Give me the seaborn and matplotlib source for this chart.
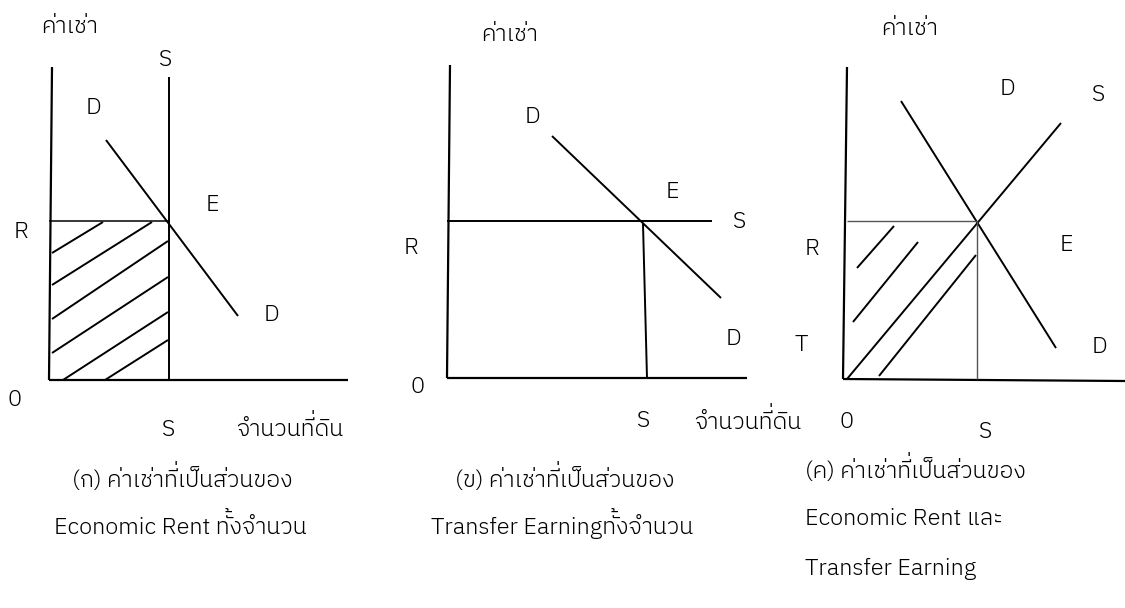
import matplotlib
matplotlib.use("Agg")
import matplotlib.pyplot as plt
from matplotlib import font_manager
from matplotlib.font_manager import FontProperties, findfont
from matplotlib.ft2font import FT2Font
from matplotlib.transforms import Bbox
import seaborn as sns
import pandas as pd

sns.set_theme(style="white")
names = {f.name for f in font_manager.fontManager.ttflist}
THAI = "IBM Plex Sans Thai" if "IBM Plex Sans Thai" in names else "Noto Sans Thai"
FAMILY = [THAI, "Noto Sans Thai", "DejaVu Sans"]
plt.rcParams["font.family"] = FAMILY
WEIGHT = 300

# ---- line segments (x0, y0, x1, y1) on the drawing canvas ----
# panel (ก)
p1_axes = [(52, 67, 49, 380), (49, 380, 348, 380)]
p1_supply = [(169, 77, 169, 380)]
p1_demand = [(106, 140, 238, 316)]
p1_rent = [(49, 221, 169, 221)]
p1_hatch = [(52, 253, 103, 222), (52, 285, 152, 222), (52, 319, 168, 241),
            (52, 353, 168, 277), (63, 380, 168, 312), (105, 380, 168, 340)]
# panel (ข)
p2_axes = [(450, 65, 447, 378), (447, 378, 747, 378)]
p2_supply = [(447, 221, 712, 221)]
p2_demand = [(552, 136, 721, 298)]
p2_drop = [(643, 224, 647, 378)]
# panel (ค)
p3_axes = [(847, 67, 843, 379), (843, 379, 1125, 381)]
p3_supply = [(847, 379, 1061, 123)]
p3_demand = [(901, 101, 1056, 348)]
p3_rect = [(847, 221, 977, 221), (977, 221, 977, 379)]
p3_hatch = [(857, 268, 894, 226), (853, 322, 918, 242), (879, 376, 976, 255)]

# ---- labels (text, x, y-centre) ----
labels = [
    ("ค่าเช่า", 70, 25), ("S", 165, 58), ("D", 93, 106), ("E", 212, 203),
    ("R", 21, 230), ("D", 271, 313), ("0", 15, 398), ("S", 168, 428),
    ("จำนวนที่ดิน", 290, 428),
    ("ค่าเช่า", 510, 33), ("D", 532, 115), ("E", 672, 190), ("S", 739, 220),
    ("R", 411, 246), ("D", 733, 337), ("0", 418, 385), ("S", 643, 419),
    ("จำนวนที่ดิน", 748, 421),
    ("ค่าเช่า", 910, 27), ("D", 1007, 87), ("S", 1098, 93), ("R", 812, 247),
    ("E", 1066, 243), ("T", 801, 343), ("D", 1099, 345), ("0", 847, 420),
    ("S", 985, 430),
]
captions_center = [
    ("(ก) ค่าเช่าที่เป็นส่วนของ", 182, 479),
    ("Economic Rent ทั้งจำนวน", 180, 526),
    ("(ข) ค่าเช่าที่เป็นส่วนของ", 565, 479),
    ("Transfer Earningทั้งจำนวน", 562, 526),
]
captions_left = [
    ("(ค) ค่าเช่าที่เป็นส่วนของ", 805, 470),
    ("Economic Rent และ", 805, 517),
    ("Transfer Earning", 805, 567),
]

W, H = 1125, 608
fig = plt.figure(figsize=(W / 100, H / 100), dpi=100)
ax = fig.add_axes([0, 0, 1, 1])
renderer = fig.canvas.get_renderer()


def draw(segs, lw, color="black"):
    rows = []
    for i, (x0, y0, x1, y1) in enumerate(segs):
        rows.append({"x": x0, "y": y0, "seg": i})
        rows.append({"x": x1, "y": y1, "seg": i})
    df = pd.DataFrame(rows)
    sns.lineplot(data=df, x="x", y="y", units="seg", estimator=None,
                 sort=False, color=color, linewidth=lw, ax=ax,
                 solid_capstyle="butt", legend=False)


draw(p1_axes + p2_axes + p3_axes, 1.6)
draw(p1_supply + p1_demand + p2_supply + p2_demand + p2_drop
     + p3_supply + p3_demand, 1.4)
draw(p1_hatch + p3_hatch, 1.4)
draw(p1_rent, 1.1)
draw(p3_rect, 1.0, color="#555555")
ax.set_xlim(0, W)
ax.set_ylim(H, 0)
ax.axis("off")


def width_of(s, fs):
    t = ax.text(0, 300, s, fontsize=fs, fontweight=WEIGHT)
    w = t.get_window_extent(renderer).width
    t.remove()
    return w


# font size fitted to the reference caption widths
fs = 10 * 0.5 * (219 / width_of("(ก) ค่าเช่าที่เป็นส่วนของ", 10)
                 + 253 / width_of("Economic Rent ทั้งจำนวน", 10))
fs_px = fs * 100 / 72
MARK_UP = 0.24 * fs_px

ft = FT2Font(findfont(FontProperties(family=THAI, weight=WEIGHT)))
ft.set_size(fs, 100)
ft.set_text("ท", 0.0)
_w, _h = ft.get_width_height()
XH = (_h - ft.get_descent()) / 64.0   # consonant height above baseline (px)

UPPER = "\u0e31\u0e34\u0e35\u0e36\u0e37\u0e47"
TONES = "\u0e48\u0e49\u0e4a\u0e4b\u0e4c"


def strip_stacked(s):
    out = []
    for j, ch in enumerate(s):
        if ch in TONES and j > 0 and s[j - 1] in UPPER:
            continue
        out.append(ch)
    return "".join(out)


def thai_text(x, yc, s, ha="center"):
    yb = yc + 0.34 * fs_px
    kw = dict(fontsize=fs, fontweight=WEIGHT, color="black")
    pairs = [i for i in range(1, len(s) - 1)
             if s[i] in UPPER and s[i + 1] in TONES]
    base = strip_stacked(s)
    t = ax.text(x, yb, base, ha=ha, va="baseline", **kw)
    if not pairs:
        return
    x_left = t.get_window_extent(renderer).x0
    for i in pairs:
        cons = s[i - 1]
        prefix = strip_stacked(s[:i])
        tmp = ax.text(x_left, yb, prefix, ha="left", va="baseline", **kw)
        x1 = tmp.get_window_extent(renderer).x1
        tmp.remove()
        xl = x1 - width_of(cons, fs)
        ov = ax.text(xl, yb - MARK_UP, cons + s[i + 1], ha="left",
                     va="baseline", clip_on=True, **kw)
        y_cut = H - (yb - MARK_UP - XH - 0.8)
        ov.set_clip_path(None)
        ov.set_clip_box(Bbox([[xl - 10, y_cut], [xl + 60, H]]))
        ov.set_zorder(t.get_zorder() - 0.1)


for t_, x, y in labels:
    thai_text(x, y, t_)
for t_, x, y in captions_center:
    thai_text(x, y, t_)
for t_, x, y in captions_left:
    thai_text(x, y, t_, ha="left")

fig.savefig("out.png", dpi=100)
